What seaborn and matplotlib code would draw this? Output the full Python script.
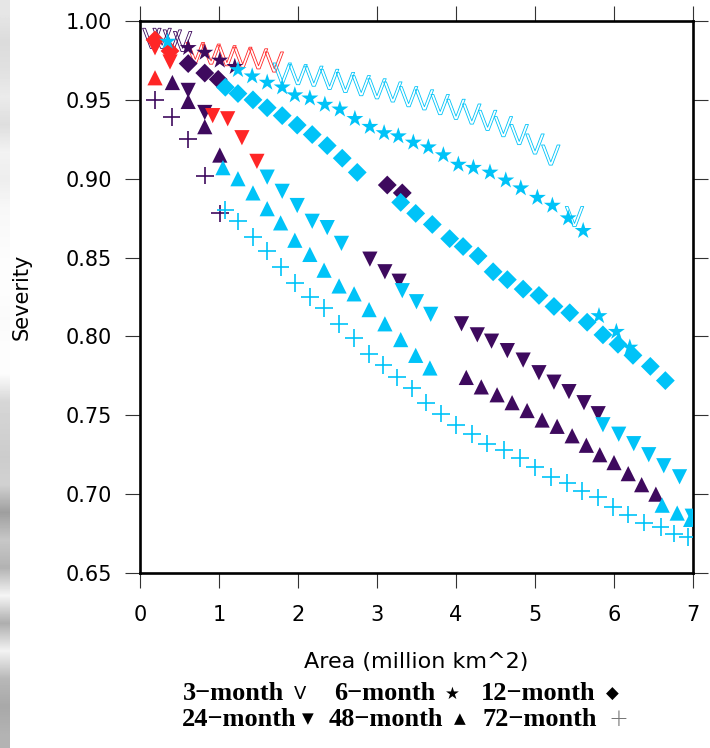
import numpy as np
import pandas as pd
import matplotlib
matplotlib.use("Agg")
import matplotlib.pyplot as plt
import seaborn as sns

# ---- data: severity-area curves per drought duration ----
# group codes: r = red, p = purple, b = blue
m3_area = [0.15, 0.28, 0.41, 0.54,
           0.7, 0.9, 1.1, 1.3, 1.5, 1.7,
           1.8, 2.0, 2.2, 2.4, 2.6, 2.8, 3.0, 3.2, 3.4, 3.6, 3.8, 4.0, 4.2,
           4.4, 4.6, 4.8, 5.0, 5.2, 5.5]
m3_sev = [0.989, 0.989, 0.988, 0.987,
          0.980, 0.979, 0.978, 0.977, 0.976, 0.974,
          0.967, 0.966, 0.965, 0.963, 0.961, 0.959, 0.957, 0.955, 0.952,
          0.950, 0.947, 0.944, 0.941, 0.937, 0.933, 0.928, 0.922, 0.915, 0.876]
m3_grp = list("pppp" + "rrrrrr" + "b" * 19)

m6_area = [0.35, 0.61, 0.82, 1.01, 1.20,
           1.24, 1.42, 1.61, 1.80, 1.96, 2.15, 2.34, 2.53, 2.72, 2.91, 3.09,
           3.27, 3.46, 3.65, 3.84, 4.03, 4.22, 4.43, 4.63, 4.82, 5.03, 5.22,
           5.42, 5.61, 5.81, 6.03, 6.20]
m6_sev = [0.987, 0.983, 0.980, 0.975, 0.971,
          0.969, 0.965, 0.961, 0.958, 0.953, 0.951, 0.947, 0.944, 0.938,
          0.933, 0.929, 0.927, 0.923, 0.920, 0.915, 0.909, 0.907, 0.904,
          0.899, 0.894, 0.888, 0.883, 0.875, 0.867, 0.813, 0.803, 0.793]
m6_grp = list("b" + "pppp" + "b" * 27)

m12_area = [0.19, 0.38,
            0.61, 0.82, 0.99,
            1.08, 1.24, 1.43, 1.61, 1.80, 1.99, 2.18, 2.37, 2.56, 2.75,
            3.13, 3.32,
            3.30, 3.49, 3.70, 3.92, 4.09, 4.28, 4.47, 4.65, 4.85, 5.05, 5.24,
            5.44, 5.66, 5.86, 6.05, 6.24, 6.46, 6.65]
m12_sev = [0.988, 0.981,
           0.973, 0.967, 0.963,
           0.958, 0.954, 0.950, 0.945, 0.940, 0.934, 0.928, 0.921, 0.913, 0.904,
           0.896, 0.891,
           0.885, 0.878, 0.871, 0.862, 0.857, 0.851, 0.841, 0.836, 0.830,
           0.826, 0.819, 0.815, 0.809, 0.801, 0.795, 0.788, 0.781, 0.772]
m12_grp = list("rr" + "ppp" + "b" * 10 + "pp" + "b" * 18)

m24_area = [0.19, 0.38,
            0.61, 0.82,
            0.92, 1.11, 1.29, 1.48,
            1.61, 1.80, 1.99, 2.18, 2.37, 2.55,
            2.91, 3.10, 3.28,
            3.32, 3.50, 3.68,
            4.07, 4.27, 4.45, 4.65, 4.85, 5.05, 5.24, 5.43, 5.62, 5.80,
            5.86, 6.06, 6.25, 6.44, 6.63, 6.83, 6.99]
m24_sev = [0.983, 0.974,
           0.956, 0.942,
           0.940, 0.938, 0.926, 0.911,
           0.901, 0.892, 0.883, 0.873, 0.869, 0.859,
           0.849, 0.841, 0.835,
           0.829, 0.822, 0.814,
           0.808, 0.801, 0.797, 0.791, 0.785, 0.777, 0.771, 0.765, 0.758, 0.751,
           0.744, 0.738, 0.732, 0.725, 0.718, 0.711, 0.686]
m24_grp = list("rr" + "pp" + "rrrr" + "b" * 6 + "ppp" + "bbb" + "p" * 10 + "b" * 7)

m48_area = [0.19,
            0.41, 0.61, 0.82, 1.01,
            1.05, 1.24, 1.43, 1.61, 1.78, 1.96, 2.15, 2.33, 2.52, 2.71, 2.90,
            3.10, 3.30, 3.49, 3.67,
            4.13, 4.32, 4.52, 4.71, 4.90, 5.09, 5.28, 5.47, 5.65, 5.82, 6.00,
            6.18, 6.35, 6.53,
            6.61, 6.80, 6.97]
m48_sev = [0.964,
           0.961, 0.949, 0.933, 0.915,
           0.907, 0.900, 0.891, 0.881, 0.872, 0.861, 0.852, 0.842, 0.832,
           0.827, 0.817, 0.808, 0.798, 0.788, 0.780,
           0.774, 0.768, 0.763, 0.758, 0.753, 0.747, 0.743, 0.737, 0.731,
           0.725, 0.720, 0.713, 0.706, 0.700,
           0.693, 0.688, 0.684]
m48_grp = list("r" + "pppp" + "b" * 15 + "p" * 14 + "bbb")

m72_area = [0.19, 0.40, 0.61, 0.82, 1.01,
            1.08, 1.24, 1.43, 1.61, 1.78, 1.96, 2.15, 2.33, 2.52, 2.71, 2.90,
            3.08, 3.25, 3.44, 3.62, 3.81, 4.00, 4.20, 4.39, 4.61, 4.81, 5.00,
            5.20, 5.41, 5.59, 5.80, 5.99, 6.18, 6.38, 6.59, 6.76, 6.94]
m72_sev = [0.950, 0.939, 0.925, 0.902, 0.878,
           0.880, 0.873, 0.863, 0.854, 0.844, 0.834, 0.825, 0.818, 0.808,
           0.799, 0.789, 0.782, 0.774, 0.767, 0.758, 0.751, 0.744, 0.738,
           0.732, 0.728, 0.723, 0.717, 0.711, 0.707, 0.702, 0.698, 0.692,
           0.687, 0.682, 0.679, 0.675, 0.673]
m72_grp = list("ppppp" + "b" * 32)

x_ticks = [0, 1, 2, 3, 4, 5, 6, 7]
y_ticks = [0.65, 0.70, 0.75, 0.80, 0.85, 0.90, 0.95, 1.00]

PALETTE = {"r": "#FF2626", "p": "#3E0A5E", "b": "#00C3F8"}

# ---- figure ----
sns.set_style("ticks")
plt.rcParams["font.family"] = ["DejaVu Sans"]
plt.rcParams["text.color"] = "black"
plt.rcParams["axes.labelcolor"] = "black"
plt.rcParams["xtick.labelcolor"] = "black"
plt.rcParams["ytick.labelcolor"] = "black"

fig = plt.figure(figsize=(7.10, 7.48), dpi=100)
ax = fig.add_axes([140 / 710, 1 - 573 / 748, 553 / 710, 552 / 748])


def draw(area, sev, grp, marker, size, lw=0.0, hollow=False, z=2):
    df = pd.DataFrame({"area": area, "sev": sev, "grp": grp})
    n_before = len(ax.collections)
    kw = dict(data=df, x="area", y="sev", hue="grp", palette=PALETTE,
              marker=marker, s=size, legend=False, ax=ax, zorder=z,
              linewidth=lw)
    if marker != "+":
        kw["edgecolor"] = "none"
    sns.scatterplot(**kw)
    coll = ax.collections[n_before]
    if hollow:
        cols = coll.get_facecolors().copy()
        coll.set_facecolors("none")
        coll.set_edgecolors(cols)
        coll.set_linewidths(lw)
    return coll


draw(m3_area, m3_sev, m3_grp, r"$\mathsf{V}$", 210, lw=0.6, hollow=True, z=2)
draw(m24_area, m24_sev, m24_grp, "v", 120, z=3)
draw(m48_area, m48_sev, m48_grp, "^", 120, z=3)
draw(m72_area, m72_sev, m72_grp, "+", 160, lw=1.2, z=3)
draw(m12_area, m12_sev, m12_grp, "D", 92, z=4)
draw(m6_area, m6_sev, m6_grp, "*", 165, z=5)

ax.set_xlim(0, 7)
ax.set_ylim(0.65, 1.00)
ax.set_xticks(x_ticks)
ax.set_xticklabels([str(t) for t in x_ticks])
ax.set_yticks(y_ticks)
ax.set_yticklabels([f"{t:.2f}" for t in y_ticks])

for s in ax.spines.values():
    s.set_linewidth(1.9)
    s.set_color("black")
    s.set_visible(True)

ax.tick_params(axis="both", which="major", direction="out", length=11,
               width=0.8, color="#333333", labelsize=15, labelcolor="black",
               top=True, right=True, labeltop=False, labelright=False)
ax.tick_params(axis="x", pad=12)
ax.tick_params(axis="y", pad=9)

ax.set_xlabel("Area (million km^2)", fontsize=16, labelpad=0)
ax.set_ylabel("Severity", fontsize=15, labelpad=0)
ax.xaxis.set_label_coords((416 - 140) / 553, -(662 - 573) / 552)
ax.yaxis.set_label_coords(-(140 - 22) / 553, 0.5)
ax.xaxis.label.set_va("center")
ax.yaxis.label.set_va("center")

# ---- legend row text ----
serif = dict(family="Liberation Serif", weight="bold", fontsize=19,
             va="center", ha="center", color="black")
sym = dict(family="DejaVu Sans", va="center", ha="center", color="black")


def fx(px):
    return px / 710


def fy(py):
    return 1 - py / 748


row1, row2 = 694, 719
fig.text(fx(233), fy(row1), "3\u2212month", **serif)
fig.text(fx(300), fy(row1), "V", fontsize=13, **sym)
fig.text(fx(385), fy(row1), "6\u2212month", **serif)
fig.text(fx(452), fy(row1), "\u2605", fontsize=12, **sym)
fig.text(fx(538), fy(row1), "12\u2212month", **serif)
fig.text(fx(612), fy(row1), "\u25C6", fontsize=12, **sym)

fig.text(fx(239), fy(row2), "24\u2212month", **serif)
fig.text(fx(308), fy(row2), "\u25BC", fontsize=11, **sym)
fig.text(fx(386), fy(row2), "48\u2212month", **serif)
fig.text(fx(460), fy(row2), "\u25B2", fontsize=11, **sym)
fig.text(fx(540), fy(row2), "72\u2212month", **serif)
fig.text(fx(618), fy(row2), "+", fontsize=17, color="#777777",
         family="DejaVu Sans", va="center", ha="center", fontweight="light")

# ---- weathered paper edge on the left margin ----
edge_grays = [0.90, 0.86, 0.88, 0.92, 0.87, 0.95, 0.93, 0.97, 0.98, 0.99,
              0.99, 0.98, 0.99, 0.99, 0.84, 0.82, 0.80, 0.82, 0.62, 0.78,
              0.70, 0.96, 0.68, 0.95, 0.72, 0.66, 0.70]
edge_ax = fig.add_axes([0, 0, 10 / 710, 1])
edge_ax.imshow(np.array(edge_grays)[:, None], cmap="gray", vmin=0, vmax=1,
               aspect="auto", interpolation="bilinear")
edge_ax.set_axis_off()

fig.savefig("out.png", dpi=100)
